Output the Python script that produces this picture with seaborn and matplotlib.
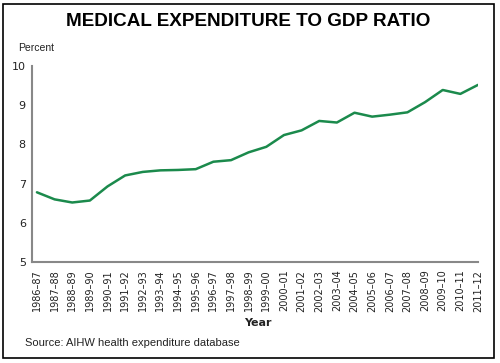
import matplotlib
matplotlib.use("Agg")
import matplotlib.pyplot as plt
import seaborn as sns
import pandas as pd
from matplotlib.patches import Rectangle

years = ["1986–87", "1987–88", "1988–89", "1989–90", "1990–91", "1991–92",
         "1992–93", "1993–94", "1994–95", "1995–96", "1996–97", "1997–98",
         "1998–99", "1999–00", "2000–01", "2001–02", "2002–03", "2003–04",
         "2004–05", "2005–06", "2006–07", "2007–08", "2008–09", "2009–10",
         "2010–11", "2011–12"]
ratio = [6.78, 6.60, 6.52, 6.57, 6.93, 7.21, 7.30, 7.34, 7.35, 7.37, 7.56, 7.60,
         7.80, 7.94, 8.24, 8.36, 8.60, 8.56, 8.81, 8.71, 8.76, 8.82, 9.08, 9.39,
         9.29, 9.52]
y_ticks = [5, 6, 7, 8, 9, 10]

df = pd.DataFrame({"Year": years, "Percent": ratio})

sns.set_style("white")
plt.rcParams['font.family'] = ['DejaVu Sans']

fig = plt.figure(figsize=(5, 3.63), dpi=100)
ax = fig.add_axes([0.064, 0.278, 0.892, 0.540])

sns.lineplot(data=df, x="Year", y="Percent", sort=False, color="#1b8a4c",
             linewidth=1.8, ax=ax)

ax.set_xlim(-0.28, len(years) - 1)
ax.set_ylim(5, 10)
ax.set_yticks(y_ticks)
ax.set_xticks(range(len(years)))
ax.set_xticklabels(years, rotation=90, fontsize=7, color="#222222")
ax.tick_params(axis="y", labelsize=8, colors="#222222", length=3.5, width=1,
               direction="out", pad=1)
ax.tick_params(axis="x", length=3.5, width=1, direction="out", pad=2)
ax.tick_params(axis="both", color="#555555")

for s in ["top", "right"]:
    ax.spines[s].set_visible(False)
for s in ["left", "bottom"]:
    ax.spines[s].set_color("#888888")
    ax.spines[s].set_linewidth(1.5)

ax.set_xlabel("")
ax.set_ylabel("")

fig.text(0.496, 0.94, "MEDICAL EXPENDITURE TO GDP RATIO", ha="center",
         va="center", fontsize=13.6, fontweight="bold", color="black",
         family=["Liberation Sans"])
fig.text(0.036, 0.868, "Percent", ha="left", va="center", fontsize=7.5,
         color="#222222", family=["Liberation Sans"])
fig.text(0.516, 0.11, "Year", ha="center", va="center", fontsize=8,
         fontweight="bold", color="#222222")
fig.text(0.05, 0.055, "Source: AIHW health expenditure database", ha="left",
         va="center", fontsize=8, color="#222222", family=["Liberation Sans"])

fig.patches.append(Rectangle((0.006, 0.014), 0.982, 0.975,
                             transform=fig.transFigure, fill=False,
                             edgecolor="black", linewidth=1.2))

fig.savefig("out.png", dpi=100)
